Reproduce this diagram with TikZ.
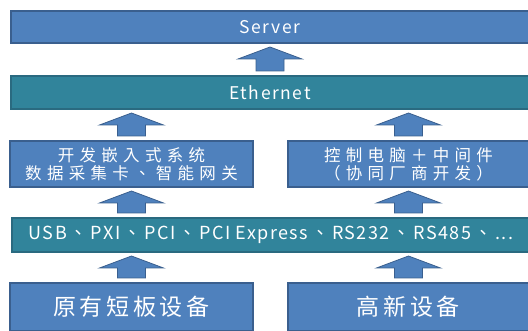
\documentclass[tikz,border=0pt]{standalone}
\usepackage{fontspec}
\setmainfont{Noto Sans CJK TC}
\newfontfamily\cjkmid[LetterSpace=32]{Noto Sans CJK TC}
\newfontfamily\cjkbig[LetterSpace=16]{Noto Sans CJK TC}
\newfontfamily\latn[LetterSpace=9]{Noto Sans CJK TC}
\newfontfamily\latnb[LetterSpace=8]{Noto Sans CJK TC}
\usetikzlibrary{calc}
\definecolor{bfill}{HTML}{4F81BD}
\definecolor{bline}{HTML}{3A5F8E}
\definecolor{tfill}{HTML}{31849B}
\definecolor{tline}{HTML}{2A6A80}
\tikzset{
  box/.style={draw=bline, fill=bfill, line width=2pt, text=white, inner sep=0pt, align=center},
  tbox/.style={box, draw=tline, fill=tfill},
  arr/.style={draw=bline, fill=bfill, line width=0.8pt, line join=miter}
}
\newcommand\sepc{\hspace{3pt}、\hspace{3pt}}
% #1 node giving x, #2 lower node, #3 upper node
\newcommand\blkarrow[3]{%
  \draw[arr] let \p1=($(#1.center |- #2.north)+(0,-4)$), \p2=($(#1.center |- #3.south)+(0,3)$) in
    (\x1-14pt,\y1) -- (\x1-14pt,\y2-12pt) -- (\x1-32pt,\y2-12pt) -- (\x1,\y2)
    -- (\x1+32pt,\y2-12pt) -- (\x1+14pt,\y2-12pt) -- (\x1+14pt,\y1) -- cycle;}
\begin{document}
\begin{tikzpicture}[x=1pt,y=-1pt]
\useasboundingbox (0,0) rectangle (528,331);
\clip (0,0) rectangle (528,331);
\node[box, minimum width=518pt, minimum height=32pt, font=\fontsize{17.5}{20}\selectfont\latn] (srv) at (270,27) {Server};
\node[tbox, minimum width=518pt, minimum height=33pt, font=\fontsize{17.5}{20}\selectfont\latn] (eth) at (270,92.5) {Ethernet};
\node[box, minimum width=243pt, minimum height=46pt, font=\fontsize{16.5}{18}\selectfont\cjkmid] (midL) at (131.5,164) {开发嵌入式系统\\数据采集卡、智能网关};
\node[box, minimum width=241pt, minimum height=46pt, font=\fontsize{16.5}{18}\selectfont\cjkmid] (midR) at (408.5,164) {控制电脑＋中间件\\（协同厂商开发）};
\node[tbox, minimum width=518pt, minimum height=34pt, font=\fontsize{18}{20}\selectfont\latnb] (usb) at (271,235) {USB\sepc PXI\sepc PCI\sepc PCI Express\sepc RS232\sepc RS485\sepc ...};
\node[box, minimum width=243pt, minimum height=48pt, font=\fontsize{23}{26}\selectfont\cjkbig] (botL) at (131.5,307) {原有短板设备};
\node[box, minimum width=241pt, minimum height=48pt, font=\fontsize{23}{26}\selectfont\cjkbig] (botR) at (408.5,307) {高新设备};
\blkarrow{eth}{eth}{srv}
\blkarrow{midL}{midL}{eth}
\blkarrow{midR}{midR}{eth}
\blkarrow{midL}{usb}{midL}
\blkarrow{midR}{usb}{midR}
\blkarrow{botL}{botL}{usb}
\blkarrow{botR}{botR}{usb}
\end{tikzpicture}
\end{document}
